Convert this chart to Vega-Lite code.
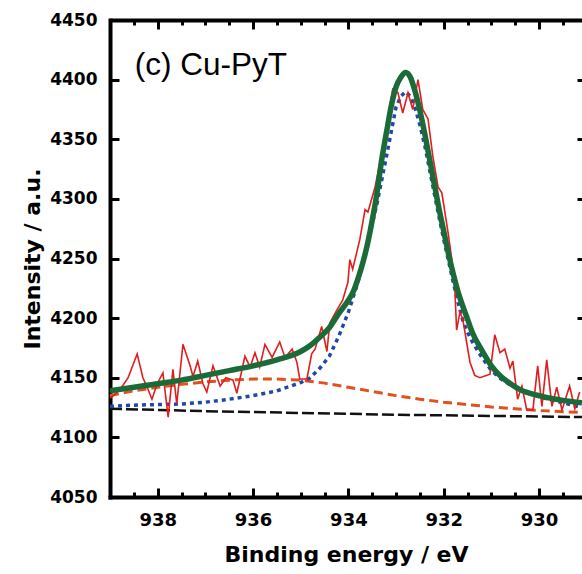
{
  "$schema": "https://vega.github.io/schema/vega-lite/v6.json",
  "autosize": {"type": "none"},
  "padding": {"left": 110, "top": 20, "right": 0, "bottom": 77},
  "width": 472,
  "height": 477,
  "background": "white",
  "config": {"view": {"stroke": null}},
  "datasets": {
    "raw": [
      {"be": 939.00, "i": 4133}, {"be": 938.96, "i": 4134}, {"be": 938.79, "i": 4140}, {"be": 938.62, "i": 4150},
      {"be": 938.43, "i": 4170}, {"be": 938.31, "i": 4150}, {"be": 938.22, "i": 4142}, {"be": 938.12, "i": 4132},
      {"be": 938.01, "i": 4145}, {"be": 937.89, "i": 4154}, {"be": 937.78, "i": 4117}, {"be": 937.68, "i": 4157},
      {"be": 937.60, "i": 4128}, {"be": 937.47, "i": 4178}, {"be": 937.32, "i": 4160}, {"be": 937.26, "i": 4151},
      {"be": 937.16, "i": 4164}, {"be": 937.05, "i": 4145}, {"be": 936.97, "i": 4138}, {"be": 936.84, "i": 4160},
      {"be": 936.69, "i": 4143}, {"be": 936.57, "i": 4150}, {"be": 936.42, "i": 4148}, {"be": 936.34, "i": 4137},
      {"be": 936.17, "i": 4168}, {"be": 936.06, "i": 4159}, {"be": 935.96, "i": 4171}, {"be": 935.86, "i": 4159},
      {"be": 935.75, "i": 4178}, {"be": 935.60, "i": 4167}, {"be": 935.44, "i": 4180}, {"be": 935.33, "i": 4167},
      {"be": 935.18, "i": 4174}, {"be": 935.08, "i": 4163}, {"be": 935.02, "i": 4149}, {"be": 934.87, "i": 4149},
      {"be": 934.77, "i": 4170}, {"be": 934.70, "i": 4174}, {"be": 934.56, "i": 4193}, {"be": 934.45, "i": 4172},
      {"be": 934.39, "i": 4196}, {"be": 934.24, "i": 4207}, {"be": 934.12, "i": 4215}, {"be": 934.01, "i": 4230},
      {"be": 933.97, "i": 4249}, {"be": 933.91, "i": 4241}, {"be": 933.76, "i": 4266}, {"be": 933.65, "i": 4291},
      {"be": 933.59, "i": 4289}, {"be": 933.44, "i": 4310}, {"be": 933.34, "i": 4330}, {"be": 933.21, "i": 4360},
      {"be": 933.07, "i": 4392}, {"be": 932.96, "i": 4389}, {"be": 932.86, "i": 4372}, {"be": 932.75, "i": 4389},
      {"be": 932.65, "i": 4375}, {"be": 932.54, "i": 4400}, {"be": 932.44, "i": 4375}, {"be": 932.33, "i": 4367},
      {"be": 932.23, "i": 4336}, {"be": 932.12, "i": 4310}, {"be": 932.04, "i": 4305}, {"be": 931.91, "i": 4272},
      {"be": 931.83, "i": 4249}, {"be": 931.77, "i": 4227}, {"be": 931.73, "i": 4190}, {"be": 931.66, "i": 4205},
      {"be": 931.60, "i": 4199}, {"be": 931.45, "i": 4163}, {"be": 931.35, "i": 4152}, {"be": 931.24, "i": 4150},
      {"be": 931.03, "i": 4153}, {"be": 930.93, "i": 4186}, {"be": 930.82, "i": 4171}, {"be": 930.72, "i": 4174},
      {"be": 930.61, "i": 4158}, {"be": 930.55, "i": 4164}, {"be": 930.45, "i": 4132}, {"be": 930.36, "i": 4143},
      {"be": 930.26, "i": 4123}, {"be": 930.13, "i": 4123}, {"be": 930.03, "i": 4160}, {"be": 929.94, "i": 4126},
      {"be": 929.84, "i": 4165}, {"be": 929.73, "i": 4126}, {"be": 929.63, "i": 4142}, {"be": 929.52, "i": 4123},
      {"be": 929.36, "i": 4143}, {"be": 929.25, "i": 4124}, {"be": 929.15, "i": 4138}
    ],
    "total": [
      {"be": 939.0, "i": 4139}, {"be": 938.5, "i": 4142}, {"be": 938.0, "i": 4145}, {"be": 937.5, "i": 4148},
      {"be": 937.0, "i": 4152}, {"be": 936.5, "i": 4156}, {"be": 936.0, "i": 4160}, {"be": 935.5, "i": 4165},
      {"be": 935.0, "i": 4172}, {"be": 934.8, "i": 4177}, {"be": 934.6, "i": 4184}, {"be": 934.4, "i": 4192},
      {"be": 934.2, "i": 4204}, {"be": 934.0, "i": 4215}, {"be": 933.9, "i": 4222}, {"be": 933.8, "i": 4233},
      {"be": 933.7, "i": 4246}, {"be": 933.6, "i": 4262}, {"be": 933.5, "i": 4282}, {"be": 933.4, "i": 4305},
      {"be": 933.3, "i": 4333}, {"be": 933.2, "i": 4356}, {"be": 933.1, "i": 4378}, {"be": 933.0, "i": 4394},
      {"be": 932.9, "i": 4402}, {"be": 932.8, "i": 4406}, {"be": 932.7, "i": 4402}, {"be": 932.6, "i": 4390},
      {"be": 932.5, "i": 4374}, {"be": 932.4, "i": 4355}, {"be": 932.3, "i": 4334}, {"be": 932.2, "i": 4313},
      {"be": 932.1, "i": 4292}, {"be": 932.0, "i": 4273}, {"be": 931.9, "i": 4254}, {"be": 931.8, "i": 4237},
      {"be": 931.7, "i": 4222}, {"be": 931.6, "i": 4210}, {"be": 931.5, "i": 4199}, {"be": 931.4, "i": 4188},
      {"be": 931.2, "i": 4173}, {"be": 931.0, "i": 4160}, {"be": 930.8, "i": 4151}, {"be": 930.6, "i": 4145},
      {"be": 930.4, "i": 4140}, {"be": 930.0, "i": 4135}, {"be": 929.5, "i": 4131}, {"be": 929.1, "i": 4129}
    ],
    "main": [
      {"be": 939.0, "i": 4126}, {"be": 938.5, "i": 4127}, {"be": 938.0, "i": 4127.5}, {"be": 937.5, "i": 4128},
      {"be": 937.0, "i": 4129.5}, {"be": 936.5, "i": 4132}, {"be": 936.0, "i": 4135}, {"be": 935.5, "i": 4139},
      {"be": 935.0, "i": 4146}, {"be": 934.8, "i": 4150}, {"be": 934.6, "i": 4158}, {"be": 934.4, "i": 4168},
      {"be": 934.2, "i": 4185}, {"be": 934.0, "i": 4205}, {"be": 933.8, "i": 4230}, {"be": 933.6, "i": 4262},
      {"be": 933.4, "i": 4296}, {"be": 933.2, "i": 4336}, {"be": 933.0, "i": 4377}, {"be": 932.9, "i": 4386},
      {"be": 932.8, "i": 4390}, {"be": 932.7, "i": 4386}, {"be": 932.6, "i": 4376}, {"be": 932.5, "i": 4362},
      {"be": 932.4, "i": 4345}, {"be": 932.3, "i": 4325}, {"be": 932.2, "i": 4305}, {"be": 932.1, "i": 4285},
      {"be": 932.0, "i": 4266}, {"be": 931.9, "i": 4248}, {"be": 931.8, "i": 4230}, {"be": 931.7, "i": 4213},
      {"be": 931.6, "i": 4198}, {"be": 931.5, "i": 4188}, {"be": 931.4, "i": 4180}, {"be": 931.2, "i": 4167},
      {"be": 931.0, "i": 4156}, {"be": 930.8, "i": 4149}, {"be": 930.6, "i": 4144}, {"be": 930.4, "i": 4140},
      {"be": 930.0, "i": 4134}, {"be": 929.5, "i": 4129}, {"be": 929.1, "i": 4125}
    ],
    "sat": [
      {"be": 939.0, "i": 4135}, {"be": 938.5, "i": 4139}, {"be": 938.0, "i": 4142}, {"be": 937.5, "i": 4144.5},
      {"be": 937.0, "i": 4146.5}, {"be": 936.5, "i": 4148}, {"be": 936.0, "i": 4149}, {"be": 935.5, "i": 4149},
      {"be": 935.0, "i": 4148}, {"be": 934.5, "i": 4145.5}, {"be": 934.0, "i": 4142}, {"be": 933.5, "i": 4138.5},
      {"be": 933.0, "i": 4135}, {"be": 932.5, "i": 4132}, {"be": 932.0, "i": 4129.5}, {"be": 931.5, "i": 4127.5},
      {"be": 931.0, "i": 4125.5}, {"be": 930.5, "i": 4124}, {"be": 930.0, "i": 4122.5}, {"be": 929.5, "i": 4121.5},
      {"be": 929.1, "i": 4121}
    ],
    "bg": [
      {"be": 939.0, "i": 4124}, {"be": 937.0, "i": 4122}, {"be": 935.0, "i": 4120.5}, {"be": 933.0, "i": 4119},
      {"be": 931.0, "i": 4118}, {"be": 929.1, "i": 4117}
    ],
    "label": [{"be": 938.48, "i": 4404, "t": "(c) Cu-PyT"}]
  },
  "resolve": {"axis": {"x": "independent", "y": "independent"}},
  "layer": [
    {
      "data": {"name": "bg"},
      "mark": {"type": "line", "color": "#111111", "strokeWidth": 2.5, "strokeDash": [12, 4], "clip": true},
      "encoding": {
        "x": {"field": "be", "type": "quantitative",
          "scale": {"domain": [929.1, 939], "reverse": true, "nice": false, "zero": false},
          "axis": {"orient": "bottom", "values": [930, 932, 934, 936, 938], "grid": false, "format": "d",
            "domain": true, "domainColor": "black", "domainWidth": 4, "domainCap": "square",
            "ticks": false,
            "labelFont": "DejaVu Sans", "labelFontWeight": "bold", "labelFontSize": 18, "labelColor": "black",
            "labelPadding": 14, "labelFlush": false,
            "title": "Binding energy / eV", "titleFont": "DejaVu Sans", "titleFontWeight": "bold",
            "titleFontSize": 22, "titleColor": "black", "titlePadding": 15}},
        "y": {"field": "i", "type": "quantitative",
          "scale": {"domain": [4050, 4450], "nice": false, "zero": false},
          "axis": {"orient": "left", "values": [4050, 4100, 4150, 4200, 4250, 4300, 4350, 4400, 4450], "grid": false, "format": "d",
            "domain": true, "domainColor": "black", "domainWidth": 4, "domainCap": "square",
            "ticks": false,
            "labelFont": "DejaVu Sans", "labelFontWeight": "bold", "labelFontSize": 17, "labelColor": "black",
            "labelPadding": 13, "labelFlush": false,
            "title": "Intensity / a.u.", "titleFont": "DejaVu Sans", "titleFontWeight": "bold",
            "titleFontSize": 22, "titleColor": "black", "titlePadding": 5}}
      }
    },
    {
      "data": {"name": "sat"},
      "mark": {"type": "line", "color": "#e2501e", "strokeWidth": 3, "strokeDash": [9, 5], "clip": true},
      "encoding": {
        "x": {"field": "be", "type": "quantitative",
          "axis": {"orient": "bottom", "values": [930, 932, 934, 936, 938], "offset": -9,
            "grid": false, "domain": false, "labels": false, "title": null,
            "ticks": true, "tickSize": 9, "tickWidth": 3, "tickColor": "black"}},
        "y": {"field": "i", "type": "quantitative",
          "axis": {"orient": "left", "values": [4100, 4150, 4200, 4250, 4300, 4350, 4400], "offset": -9, "grid": false,
            "domain": false, "labels": false, "title": null,
            "ticks": true, "tickSize": 9, "tickWidth": 3, "tickColor": "black"}}
      }
    },
    {
      "data": {"name": "main"},
      "mark": {"type": "line", "color": "#1f48a8", "strokeWidth": 3.5, "strokeDash": [4, 4], "clip": true},
      "encoding": {
        "x": {"field": "be", "type": "quantitative",
          "axis": {"orient": "bottom", "values": [929.5, 930.5, 931, 931.5, 932.5, 933, 933.5, 934.5, 935, 935.5, 936.5, 937, 937.5, 938.5], "offset": -5,
            "grid": false, "domain": false, "labels": false, "title": null,
            "ticks": true, "tickSize": 5, "tickWidth": 3, "tickColor": "black"}},
        "y": {"field": "i", "type": "quantitative",
          "axis": {"orient": "right", "values": [4100, 4150, 4200, 4250, 4300, 4350, 4400], "offset": -5, "grid": false,
            "domain": false, "labels": false, "title": null,
            "ticks": true, "tickSize": 5, "tickWidth": 3, "tickColor": "black"}}
      }
    },
    {
      "data": {"name": "raw"},
      "mark": {"type": "line", "color": "#e11d1d", "strokeWidth": 1.6, "clip": true},
      "encoding": {
        "x": {"field": "be", "type": "quantitative",
          "axis": {"orient": "top", "grid": false, "domain": true, "domainColor": "black", "domainWidth": 4,
            "labels": false, "title": null, "ticks": false}},
        "y": {"field": "i", "type": "quantitative", "axis": null}
      }
    },
    {
      "data": {"name": "total"},
      "mark": {"type": "line", "color": "#1b6b38", "strokeWidth": 5.5, "interpolate": "monotone", "clip": true},
      "encoding": {
        "x": {"field": "be", "type": "quantitative",
          "axis": {"orient": "top", "values": [930, 932, 934, 936, 938], "offset": -9,
            "grid": false, "domain": false, "labels": false, "title": null,
            "ticks": true, "tickSize": 9, "tickWidth": 3, "tickColor": "black"}},
        "y": {"field": "i", "type": "quantitative", "axis": null}
      }
    },
    {
      "data": {"name": "label"},
      "mark": {"type": "text", "align": "left", "baseline": "alphabetic", "font": "Liberation Sans", "fontSize": 31.5, "color": "black"},
      "encoding": {
        "x": {"field": "be", "type": "quantitative",
          "axis": {"orient": "top", "values": [929.5, 930.5, 931, 931.5, 932.5, 933, 933.5, 934.5, 935, 935.5, 936.5, 937, 937.5, 938.5], "offset": -5,
            "grid": false, "domain": false, "labels": false, "title": null,
            "ticks": true, "tickSize": 5, "tickWidth": 3, "tickColor": "black"}},
        "y": {"field": "i", "type": "quantitative", "axis": null},
        "text": {"field": "t"}
      }
    }
  ]
}
